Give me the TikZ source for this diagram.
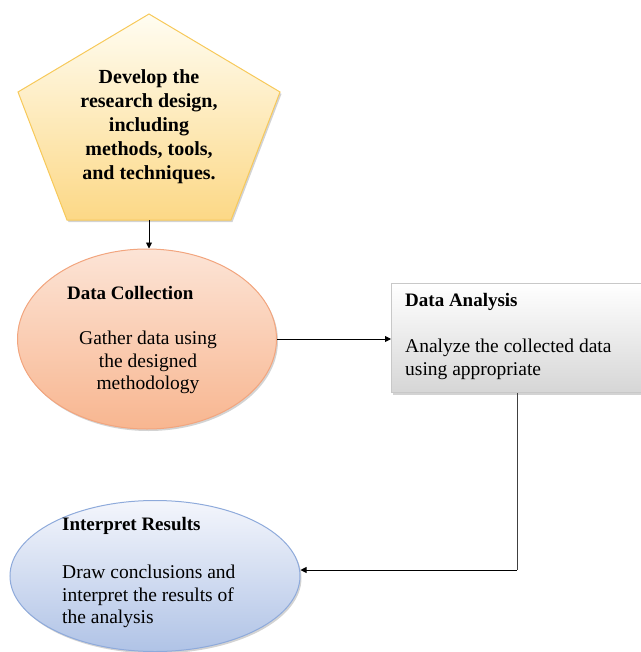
\documentclass[tikz,border=0pt]{standalone}
\usepackage{fontspec}
\setmainfont{Liberation Serif}
\usetikzlibrary{shapes.geometric,shadows,arrows.meta}
\definecolor{penttop}{HTML}{FFFDF2}
\definecolor{pentbot}{HTML}{FCD886}
\definecolor{pentline}{HTML}{F7C95A}
\definecolor{dctop}{HTML}{FCE4D6}
\definecolor{dcbot}{HTML}{F8B690}
\definecolor{dcline}{HTML}{F2A57E}
\definecolor{irtop}{HTML}{F4F6FC}
\definecolor{irbot}{HTML}{B0C3E6}
\definecolor{irline}{HTML}{8EAADB}
\definecolor{datop}{HTML}{FFFFFF}
\definecolor{dabot}{HTML}{D6D6D6}
\definecolor{daline}{HTML}{C8C8C8}
\tikzset{
  txt/.style={font=\fontsize{19.5}{22.5}\selectfont, inner sep=0pt, align=left},
  ttl/.style={font=\fontsize{19}{22}\selectfont\bfseries, inner sep=0pt},
  shd/.style={drop shadow={shadow xshift=1.5pt, shadow yshift=-2pt, opacity=0.35, fill=gray}},
  conn/.style={draw=black, line width=0.9pt, -{Triangle[length=6pt,width=6pt]}},
  connl/.style={draw=black!75, line width=1pt}
}
\begin{document}
\begin{tikzpicture}[x=1pt,y=-1pt]
\useasboundingbox (0,0) rectangle (640,652);
% pentagon
\path[top color=penttop, bottom color=pentbot, draw=pentline, line width=1pt, shd]
  (149,14) -- (280,92) -- (231,220) -- (67,220) -- (18,92) -- cycle;
\coordinate (pb) at (149,220);
\node[font=\fontsize{20}{24}\selectfont\bfseries, align=center, inner sep=0pt] (pent) at (149,127)
  {Develop the\\research design,\\including\\methods, tools,\\and techniques.};
% data collection
\node[ellipse, minimum width=259pt, minimum height=180pt, inner sep=0pt,
  top color=dctop, bottom color=dcbot, draw=dcline, line width=1pt, shd] (dc) at (147,339) {};
\node[ttl, anchor=base west] (dct) at (67,299) {Data Collection};
\node[txt, align=center, anchor=north] (dcb) at (148,331) {Gather data using\\the designed\\methodology};
% data analysis
\node[rectangle, minimum width=252pt, minimum height=109pt, inner sep=0pt, anchor=north west,
  top color=datop, bottom color=dabot, draw=daline, line width=1pt, shd] (da) at (391,283) {};
\node[ttl, anchor=base west] (dat) at (405,306) {Data Analysis};
\node[txt, anchor=north west] (dab) at (405,339) {Analyze the collected data\\using appropriate};
% interpret results
\node[ellipse, minimum width=290pt, minimum height=151pt, inner sep=0pt,
  top color=irtop, bottom color=irbot, draw=irline, line width=1pt, shd] (ir) at (155,576) {};
\node[ttl, anchor=base west] (irt) at (62,530) {Interpret Results};
\node[txt, anchor=north west] (irb) at (62,565) {Draw conclusions and\\interpret the results of\\the analysis};
% connectors
\draw[conn] (pb) -- (pb |- dc.north);
\draw[conn] (dc.east) -- (dc.east -| da.west);
\coordinate (bend) at (517,570);
\draw[connl] (da.south -| bend) -- (bend);
\draw[conn] (bend) -- (bend -| ir.east);
\end{tikzpicture}
\end{document}
